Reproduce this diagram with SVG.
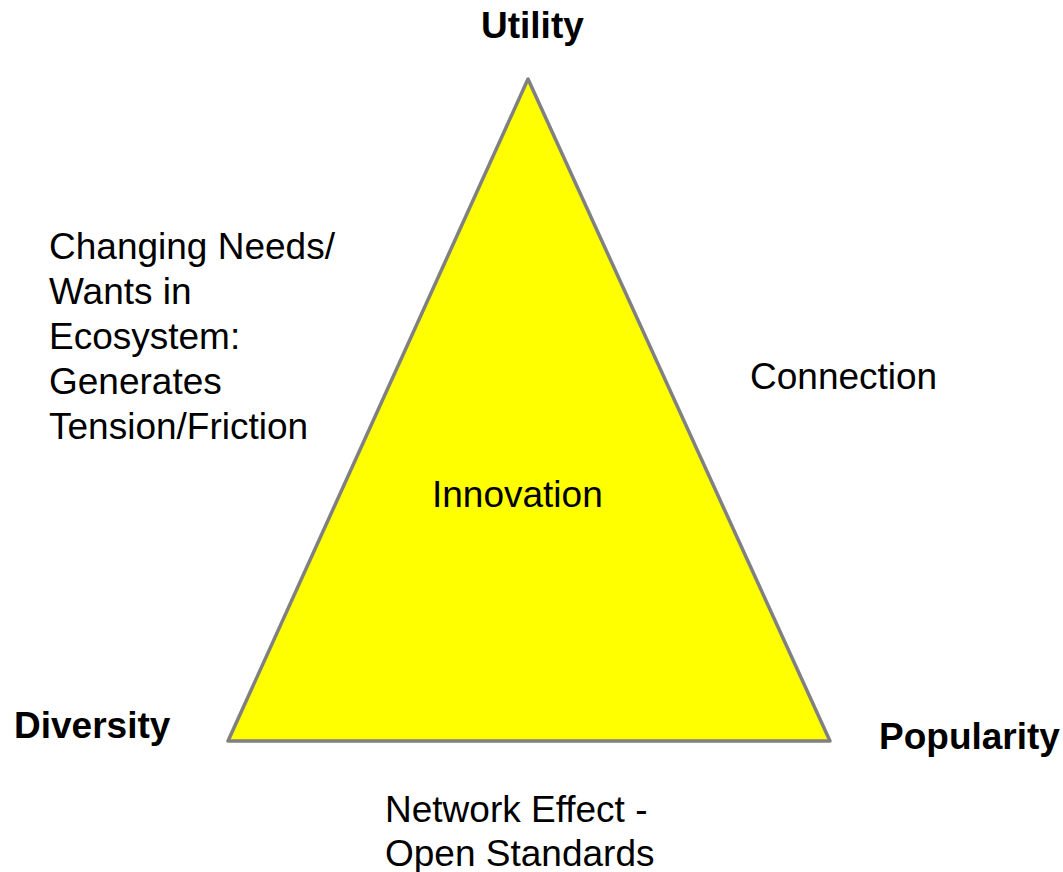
<svg xmlns="http://www.w3.org/2000/svg" width="1063" height="872" viewBox="0 0 1063 872">
<style>
.b{font-family:"Liberation Sans",Arial,sans-serif;font-weight:bold;font-size:37px;fill:#000}
.r{font-family:"Liberation Sans",Arial,sans-serif;font-size:37px;fill:#000}
</style>
<rect width="1063" height="872" fill="#fff"/>
<g id="triangle">
<polygon points="528,79 228,741 830,741" fill="#ffff00" stroke="#808080" stroke-width="3.5" stroke-linejoin="round"/>
<text class="r" x="432" y="507">Innovation</text>
</g>
<g id="utility"><text class="b" x="481" y="38">Utility</text></g>
<g id="diversity"><text class="b" x="14" y="738">Diversity</text></g>
<g id="popularity"><text class="b" x="879" y="749">Popularity</text></g>
<g id="changing">
<text class="r" x="49" y="259">Changing Needs/</text>
<text class="r" x="49" y="304">Wants in</text>
<text class="r" x="49" y="349">Ecosystem:</text>
<text class="r" x="49" y="394">Generates</text>
<text class="r" x="49" y="439">Tension/Friction</text>
</g>
<g id="connection"><text class="r" x="750" y="389">Connection</text></g>
<g id="network">
<text class="r" x="385" y="822">Network Effect -</text>
<text class="r" x="385" y="866">Open Standards</text>
</g>
<g id="connectors"></g>
</svg>
